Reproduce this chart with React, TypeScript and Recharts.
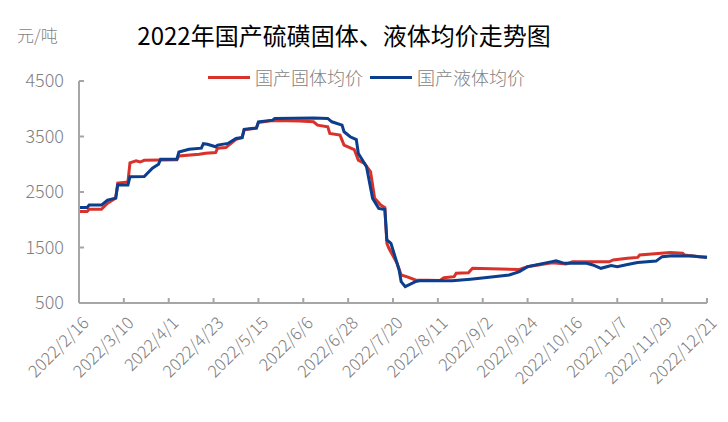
import React from 'react';
import { LineChart, Line, XAxis, YAxis } from 'recharts';

// day index 0 = 2022/2/16, one tick every 22 days
const tickLabels = [
    '2022/2/16', '2022/3/10', '2022/4/1', '2022/4/23', '2022/5/15', '2022/6/6', '2022/6/28', '2022/7/20',
    '2022/8/11', '2022/9/2', '2022/9/24', '2022/10/16', '2022/11/7', '2022/11/29', '2022/12/21',
];
const tickDays = [0, 22, 44, 66, 88, 110, 132, 154, 176, 198, 220, 242, 264, 286, 308];
const yTicks = [500, 1500, 2500, 3500, 4500];

const solidDays = [
    0, 4, 5, 11, 14, 18, 19, 24, 25, 28, 30, 32, 48, 49, 59, 62, 67, 68, 72, 77, 80, 81, 87, 88, 95, 108, 115,
    117, 122, 123, 128, 130, 135, 137, 140, 143, 145, 148, 150, 151, 152, 156, 158, 161, 165, 177, 179, 184,
    185, 191, 193, 216, 220, 232, 239, 242, 260, 262, 269, 274, 275, 290, 296, 297, 304, 308,
];
const solidPrices = [
    2150, 2150, 2190, 2190, 2300, 2390, 2660, 2680, 3025, 3060, 3040, 3070, 3080, 3150, 3180, 3200, 3210,
    3290, 3300, 3450, 3480, 3620, 3650, 3750, 3790, 3780, 3765, 3705, 3675, 3555, 3525, 3345, 3265, 3075,
    3015, 2865, 2385, 2265, 2220, 1575, 1485, 1215, 1005, 970, 915, 905, 955, 975, 1035, 1045, 1125, 1105,
    1155, 1225, 1205, 1243, 1243, 1275, 1305, 1322, 1365, 1410, 1395, 1365, 1335, 1330,
];

const liquidDays = [
    0, 4, 5, 11, 14, 18, 19, 24, 25, 32, 36, 39, 40, 48, 49, 54, 60, 61, 63, 67, 68, 73, 77, 80, 81, 87, 88,
    95, 96, 115, 122, 124, 129, 130, 133, 136, 137, 139, 141, 144, 147, 150, 151, 153, 157, 158, 160, 165,
    167, 183, 192, 200, 211, 216, 220, 232, 234, 238, 249, 252, 256, 261, 264, 269, 274, 283, 286, 291, 301, 308,
];
const liquidPrices = [
    2220, 2220, 2265, 2265, 2355, 2390, 2625, 2625, 2775, 2780, 2930, 3000, 3090, 3090, 3220, 3270, 3290,
    3370, 3360, 3315, 3345, 3375, 3465, 3480, 3630, 3655, 3765, 3795, 3825, 3835, 3825, 3765, 3705, 3585,
    3495, 3445, 3195, 3075, 2955, 2385, 2205, 2185, 1635, 1575, 1095, 885, 795, 885, 900, 900, 930, 960,
    1005, 1065, 1155, 1245, 1260, 1215, 1215, 1185, 1125, 1175, 1155, 1195, 1230, 1255, 1335, 1350, 1345, 1320,
];

const RED = '#d8322b';
const BLUE = '#0c3e8e';
const GRAY = '#7f7f7f';
const AXIS = '#a6a6a6';
const FONT = '"Noto Sans CJK SC", "Noto Sans", sans-serif';

const solidData = solidDays.map((d, i) => ({ day: d, price: solidPrices[i] }));
const liquidData = liquidDays.map((d, i) => ({ day: d, price: liquidPrices[i] }));

const XTick = (props: any) => {
    const { x, y, payload } = props;
    const label = tickLabels[tickDays.indexOf(payload.value)] ?? '';
    const tx = x + 11;
    const ty = y + 21;
    return (
        <g>
            {payload.value !== 0 && <line x1={x} y1={y} x2={x} y2={y - 5} stroke={AXIS} strokeWidth={2} />}
            <text
                x={tx}
                y={ty}
                textAnchor="end"
                fill={GRAY}
                fontSize={17}
                fontWeight={300}
                fontFamily={FONT}
                transform={`rotate(-45 ${tx} ${ty})`}
            >
                {label}
            </text>
        </g>
    );
};

const YTick = (props: any) => {
    const { x, y, payload } = props;
    return (
        <g>
            <line x1={x} y1={y} x2={x + 5} y2={y} stroke={AXIS} strokeWidth={2} />
            <text x={x - 15} y={y} dy="0.35em" textAnchor="end" fill={GRAY} fontSize={18} fontWeight={300} fontFamily={FONT}>
                {payload.value}
            </text>
        </g>
    );
};

const LegendItem = ({ color, label, left }: { color: string; label: string; left: number }) => (
    <div style={{ position: 'absolute', left, top: 64, display: 'flex', alignItems: 'center' }}>
        <div style={{ width: 42, height: 3, background: color, marginRight: 5 }} />
        <span style={{ fontSize: 18, color: GRAY, fontFamily: FONT, fontWeight: 300 }}>{label}</span>
    </div>
);

export default function App() {
    return (
        <div style={{ position: 'relative', width: 728, height: 422, margin: -8, background: '#fff', fontFamily: FONT }}>
            <div style={{ position: 'absolute', left: 17, top: 22, fontSize: 17, color: GRAY, fontWeight: 300 }}>元/吨</div>
            <div style={{ position: 'absolute', left: 0, width: 688, top: 17, textAlign: 'center', fontSize: 24, color: '#000' }}>
                2022年国产硫磺固体、液体均价走势图
            </div>
            <LegendItem color={RED} label="国产固体均价" left={208} />
            <LegendItem color={BLUE} label="国产液体均价" left={370} />
            <div style={{ position: 'absolute', left: 0, top: 0 }}>
                <LineChart width={728} height={422} margin={{ top: 81, right: 21, bottom: 19, left: 0 }}>
                    <XAxis
                        dataKey="day"
                        type="number"
                        domain={[0, 308]}
                        ticks={tickDays}
                        interval={0}
                        height={100}
                        tickSize={0}
                        tickMargin={0}
                        tick={<XTick />}
                        axisLine={{ stroke: AXIS, strokeWidth: 2 }}
                        allowDuplicatedCategory={false}
                    />
                    <YAxis
                        type="number"
                        domain={[500, 4500]}
                        ticks={yTicks}
                        interval={0}
                        width={79}
                        tickSize={0}
                        tickMargin={0}
                        tick={<YTick />}
                        axisLine={{ stroke: AXIS, strokeWidth: 2 }}
                    />
                    <Line
                        data={solidData}
                        dataKey="price"
                        type="linear"
                        stroke={RED}
                        strokeWidth={3}
                        dot={false}
                        isAnimationActive={false}
                    />
                    <Line
                        data={liquidData}
                        dataKey="price"
                        type="linear"
                        stroke={BLUE}
                        strokeWidth={3}
                        dot={false}
                        isAnimationActive={false}
                    />
                </LineChart>
            </div>
        </div>
    );
}
